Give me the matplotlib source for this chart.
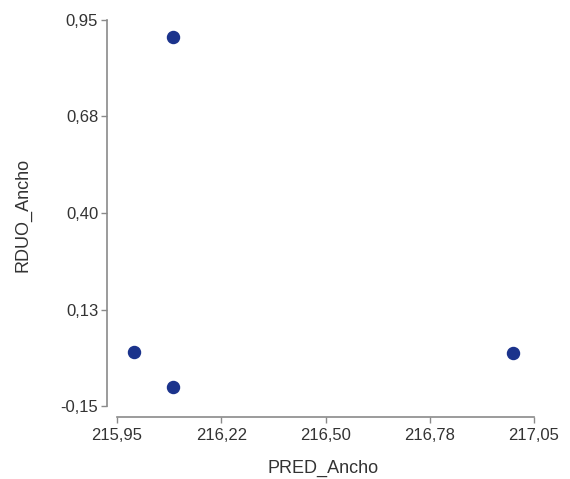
import matplotlib
matplotlib.use("Agg")
import matplotlib.pyplot as plt

pred_ancho = [216.098, 215.995, 216.098, 216.995]
rduo_ancho = [0.902, 0.004, -0.096, 0.001]

x_ticks = [215.95, 216.225, 216.50, 216.775, 217.05]
x_tick_labels = ["215,95", "216,22", "216,50", "216,78", "217,05"]
y_ticks = [-0.15, 0.125, 0.40, 0.675, 0.95]
y_tick_labels = ["-0,15", "0,13", "0,40", "0,68", "0,95"]

plt.rcParams['font.family'] = ['Liberation Sans', 'DejaVu Sans']

fig = plt.figure(figsize=(5.70, 4.79), dpi=100)
ax = fig.add_axes([117/570, 73/479, 417/570, 386/479])

ax.scatter(pred_ancho, rduo_ancho, s=75, color='#1b338c', edgecolors='#1b338c', zorder=3)

ax.set_xlim(215.95, 217.05)
ax.set_ylim(-0.15, 0.95)
ax.set_xticks(x_ticks)
ax.set_xticklabels(x_tick_labels)
ax.set_yticks(y_ticks)
ax.set_yticklabels(y_tick_labels)

for s in ['top', 'right']:
    ax.spines[s].set_visible(False)
ax.spines['left'].set_position(('outward', 7.5))
ax.spines['bottom'].set_position(('outward', 8))
ax.spines['left'].set_bounds(-0.15, 0.95)
ax.spines['bottom'].set_bounds(215.95, 217.05)
for s in ['left', 'bottom']:
    ax.spines[s].set_color('#8a8a8a')
    ax.spines[s].set_linewidth(1.2)

ax.tick_params(axis='both', colors='#8a8a8a', length=4, width=1, labelsize=12, labelcolor='#333333')
ax.tick_params(axis='y', pad=2)
ax.tick_params(axis='x', pad=4)

ax.set_xlabel("PRED_Ancho", fontsize=13, color='#333333')
ax.set_ylabel("RDUO_Ancho", fontsize=13, color='#333333')
ax.xaxis.set_label_coords(0.494, -0.140)
ax.yaxis.set_label_coords(-0.205, 0.495)

fig.savefig("out.png", dpi=100)
